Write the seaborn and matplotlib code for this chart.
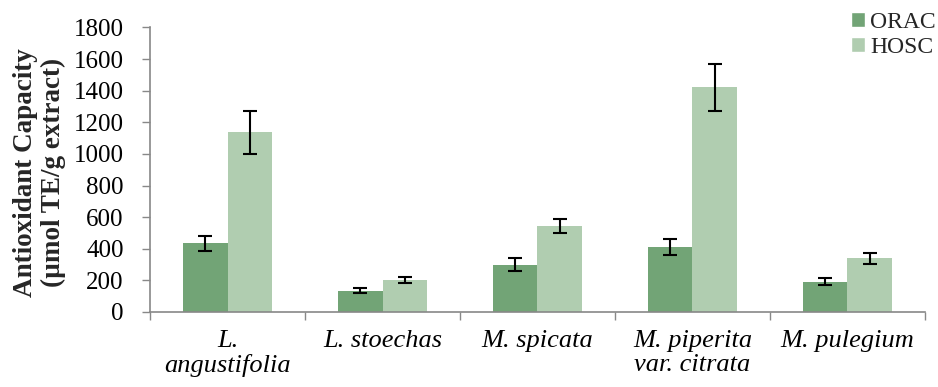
import numpy as np
import pandas as pd
import matplotlib
matplotlib.use("Agg")
import matplotlib.pyplot as plt
import seaborn as sns
from matplotlib.patches import Patch

# data
species = ["L.\nangustifolia", "L. stoechas", "M. spicata", "M. piperita\nvar. citrata", "M. pulegium"]
orac = [435, 135, 300, 410, 192]
orac_err = [48, 18, 44, 50, 22]
hosc = [1137, 200, 545, 1422, 340]
hosc_err = [136, 18, 43, 148, 35]
assays = ["ORAC", "HOSC"]
colors = ["#72a476", "#b0cdb0"]

sns.set_style("white")
plt.rcParams['font.family'] = ['Liberation Serif', 'DejaVu Serif']

df = pd.DataFrame({
    "species": species * 2,
    "assay": ["ORAC"] * 5 + ["HOSC"] * 5,
    "value": orac + hosc,
})

fig = plt.figure(figsize=(9.38, 3.87), dpi=100)
ax = fig.add_axes([0.16, 0.194, 0.826, 0.735])

sns.barplot(data=df, x="species", y="value", hue="assay", hue_order=assays,
            palette=colors, width=0.575, errorbar=None, saturation=1,
            edgecolor="none", ax=ax, legend=False)

# error bars at bar centers
for cont, errs in zip(ax.containers, [orac_err, hosc_err]):
    xs = [b.get_x() + b.get_width() / 2 for b in cont]
    ys = [b.get_height() for b in cont]
    ax.errorbar(xs, ys, yerr=errs, fmt="none", ecolor="black", elinewidth=1.5,
                capsize=5, capthick=1.5)

ax.set_xlim(-0.5, 4.5)
ax.set_ylim(0, 1800)
ax.set_yticks(range(0, 1801, 200))
ax.tick_params(axis="y", labelsize=18, labelcolor="black", length=6, width=1,
               color="#888888", direction="out", left=True, pad=13)
ax.set_xticks(range(5))
ax.set_xticklabels(species, fontstyle="italic", fontsize=19)
ax.tick_params(axis="x", length=0, pad=13, labelcolor="black")
ax.set_xticks(np.arange(-0.5, 5, 1), minor=True)
ax.tick_params(axis="x", which="minor", length=6, width=1, color="#888888", direction="out", bottom=True)
for t in ax.get_xticklabels():
    t.set_linespacing(1.1)

for s in ["top", "right"]:
    ax.spines[s].set_visible(False)
for s in ["left", "bottom"]:
    ax.spines[s].set_color("#888888")
    ax.spines[s].set_linewidth(1.2)

ax.set_xlabel("")
ax.set_ylabel("Antioxidant Capacity\n(µmol TE/g extract)", fontsize=19.5, fontweight="bold",
              linespacing=1.15)
ax.yaxis.set_label_coords(-0.108, 0.49)

handles = [Patch(facecolor=c, label=a) for c, a in zip(colors, assays)]
fig.legend(handles=handles, loc="upper right", bbox_to_anchor=(1.02, 1.025), frameon=False,
           fontsize=17, handlelength=0.6, handleheight=0.6, handletextpad=0.2, labelspacing=0.2)

fig.savefig("out.png", dpi=100)
